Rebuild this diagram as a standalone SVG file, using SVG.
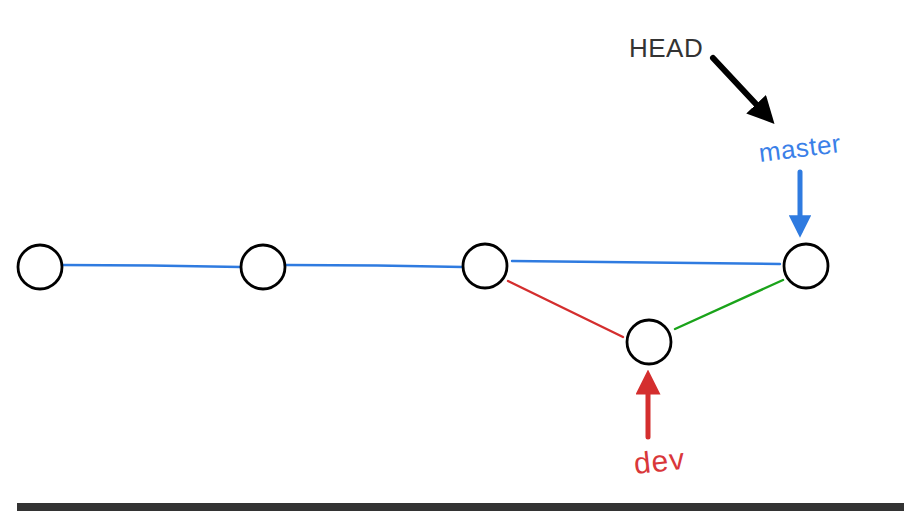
<svg xmlns="http://www.w3.org/2000/svg" width="904" height="511" viewBox="0 0 904 511">
<style>
.node{fill:#fff;stroke:#000;stroke-width:2.8}
.ln{fill:none;stroke-width:2.4;stroke-linecap:round}
.lbl{font-family:"Liberation Sans",Arial,sans-serif}
</style>
<defs>
<marker id="ahK" viewBox="0 0 10 10" refX="7" refY="5" markerWidth="4.5" markerHeight="4.5" orient="auto"><path d="M0,0 L10,5 L0,10 Z" fill="#000"/></marker>
<marker id="ahB" viewBox="0 0 10 10" refX="7" refY="5" markerWidth="5" markerHeight="4.5" orient="auto"><path d="M0,0 L10,5 L0,10 Z" fill="#2f7be0"/></marker>
<marker id="ahR" viewBox="0 0 10 10" refX="7" refY="5" markerWidth="5" markerHeight="5" orient="auto"><path d="M0,0 L10,5 L0,10 Z" fill="#d42e2e"/></marker>
</defs>
<rect width="904" height="511" fill="#fff"/>
<g id="connectors">
<path class="ln" stroke="#2f7be0" d="M62,265 Q150,265 241,267"/>
<path class="ln" stroke="#2f7be0" d="M286,265 Q380,265 463,267"/>
<path class="ln" stroke="#2f7be0" d="M512,261 Q650,262 780,264"/>
<path class="ln" stroke="#d42e2e" d="M508,281 L623,337"/>
<path class="ln" stroke="#1aa31a" d="M675,329 L783,280"/>
<path fill="none" stroke="#000" stroke-width="6" stroke-linecap="round" marker-end="url(#ahK)" d="M713,58 L769,118"/>
<path fill="none" stroke="#2f7be0" stroke-width="5" stroke-linecap="round" marker-end="url(#ahB)" d="M800,172 L800,231"/>
<path fill="none" stroke="#d42e2e" stroke-width="5" stroke-linecap="round" marker-end="url(#ahR)" d="M648,437 L648,377"/>
</g>
<g id="c1"><circle class="node" cx="40" cy="267" r="22"/></g>
<g id="c2"><circle class="node" cx="263" cy="267" r="22"/></g>
<g id="c3"><circle class="node" cx="485" cy="266" r="22"/></g>
<g id="c4"><circle class="node" cx="806" cy="266" r="22"/></g>
<g id="c5"><circle class="node" cx="649" cy="342" r="22"/></g>
<g id="head"><text class="lbl" x="629" y="57" fill="#333" font-size="26" letter-spacing="0.5">HEAD</text></g>
<g id="master"><text class="lbl" x="760" y="162" fill="#3a80e8" font-size="26" letter-spacing="0.5" transform="rotate(-7 760 162)">master</text></g>
<g id="dev"><text class="lbl" x="635" y="474" fill="#d9373a" font-size="30" letter-spacing="1" transform="rotate(-6 635 474)">dev</text></g>
<rect x="17" y="503" width="887" height="8" fill="#333"/>
</svg>
